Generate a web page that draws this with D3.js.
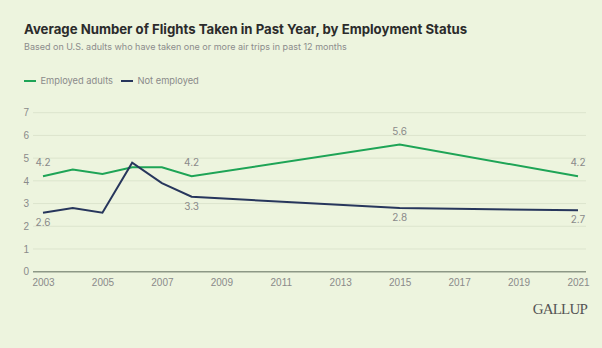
<!DOCTYPE html>
<meta charset="utf-8">
<style>
    body { margin: 0; background: #edf4de; }
    svg { display: block; font-family: Inter, "Noto Sans", sans-serif; }
    .grid line { stroke: #dce4cd; stroke-width: 1px; }
    .tick text { fill: #8a8a8a; font-size: 10px; }
    .lbl { fill: #8a8a8a; font-size: 10px; text-anchor: middle; }
</style>
<body>
<script src="https://cdn.jsdelivr.net/npm/d3@7"></script>
<script>

    var width = 602,
        height = 348;

    // survey years and series
    var years = [2003, 2004, 2005, 2006, 2007, 2008, 2015, 2021];
    var employed = [4.2, 4.5, 4.3, 4.6, 4.6, 4.2, 5.6, 4.2];
    var notEmployed = [2.6, 2.8, 2.6, 4.8, 3.9, 3.3, 2.8, 2.7];
    var xTicks = [2003, 2005, 2007, 2009, 2011, 2013, 2015, 2017, 2019, 2021];
    var yTicks = [0, 1, 2, 3, 4, 5, 6, 7];
    // which years carry a value label
    var labelYears = [2003, 2008, 2015, 2021];

    var series = [
        {name: "Employed adults", values: employed, color: "#1ea456", above: true},
        {name: "Not employed", values: notEmployed, color: "#27365c", above: false}
    ];

    var svg = d3.select("body").append("svg")
        .attr("width", width)
        .attr("height", height);

    var x = d3.scaleLinear().domain([2003, 2021]).range([43, 578]);
    var y = d3.scaleLinear().domain([0, 7]).range([271.7, 112.7]);

    svg.append("text")
        .attr("x", 24).attr("y", 34)
        .style("font-size", "13.2px").style("font-weight", "bold").style("fill", "#2b2b2b")
        .text("Average Number of Flights Taken in Past Year, by Employment Status");

    svg.append("text")
        .attr("x", 24).attr("y", 50)
        .style("font-size", "9px").style("fill", "#8c8c8c")
        .text("Based on U.S. adults who have taken one or more air trips in past 12 months");

    // legend
    var lx = 24;
    series.forEach(function(s) {
        svg.append("line")
            .attr("x1", lx).attr("x2", lx + 12).attr("y1", 81).attr("y2", 81)
            .attr("stroke", s.color).attr("stroke-width", 2);
        var t = svg.append("text")
            .attr("x", lx + 16.5).attr("y", 84.3)
            .style("font-size", "9.3px").style("fill", "#8a8a8a")
            .text(s.name);
        lx += 16.5 + t.node().getComputedTextLength() + 8;
    });

    // gridlines + y labels
    svg.append("g").attr("class", "grid")
        .selectAll("line")
        .data(yTicks.filter(function(d) { return d > 0; }))
        .enter().append("line")
        .attr("x1", 33).attr("x2", 586)
        .attr("y1", function(d) { return y(d); })
        .attr("y2", function(d) { return y(d); });

    var yAxis = svg.append("g")
        .attr("transform", "translate(29,0)")
        .call(d3.axisLeft(y).tickValues(yTicks).tickFormat(d3.format("d")).tickSize(0).tickPadding(0));
    yAxis.select(".domain").remove();

    svg.append("line")
        .attr("x1", 33).attr("x2", 586)
        .attr("y1", y(0)).attr("y2", y(0))
        .attr("stroke", "#8d9886").attr("stroke-width", 1.6);

    var xAxis = svg.append("g")
        .attr("transform", "translate(0," + y(0) + ")")
        .call(d3.axisBottom(x).tickValues(xTicks).tickFormat(d3.format("d")).tickSize(0).tickPadding(7));
    xAxis.select(".domain").remove();

    var line = d3.line()
        .x(function(d, i) { return x(years[i]); })
        .y(function(d) { return y(d); });

    svg.selectAll("path.series")
        .data(series)
        .enter().append("path")
        .attr("class", "series")
        .attr("fill", "none")
        .attr("stroke", function(d) { return d.color; })
        .attr("stroke-width", 2)
        .attr("stroke-linejoin", "miter")
        .attr("d", function(d) { return line(d.values); });

    series.forEach(function(s) {
        svg.selectAll(null)
            .data(years.filter(function(yr) { return labelYears.indexOf(yr) >= 0; }))
            .enter().append("text")
            .attr("class", "lbl")
            .attr("x", function(yr) { return x(yr); })
            .attr("y", function(yr) {
                var v = s.values[years.indexOf(yr)];
                return s.above ? y(v) - 10 : y(v) + 13;
            })
            .text(function(yr) { return d3.format(".1f")(s.values[years.indexOf(yr)]); });
    });

    svg.append("text")
        .attr("x", 587).attr("y", 314)
        .attr("text-anchor", "end")
        .style("font-family", "'Liberation Serif', 'DejaVu Serif', serif")
        .style("font-size", "15px").style("letter-spacing", "-0.8px").style("fill", "#555")
        .text("GALLUP");

</script>
</body>
</html>
